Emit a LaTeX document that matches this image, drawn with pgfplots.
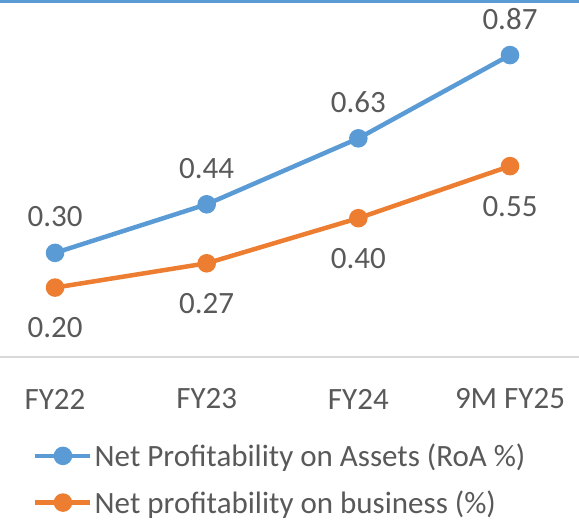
\documentclass[border=0pt]{standalone}
\usepackage{fontspec}
\setmainfont{Carlito}
\usepackage{pgfplots}
\pgfplotsset{compat=1.18}
\definecolor{cblue}{HTML}{5B9BD5}
\definecolor{corange}{HTML}{ED7D31}
\definecolor{ctext}{HTML}{595959}
\definecolor{caxis}{HTML}{D9D9D9}
\begin{document}
\begin{tikzpicture}[font=\fontsize{31}{37}\selectfont]
\path[use as bounding box] (0,0) rectangle (579pt,523pt);
\fill[cblue] (0,520pt) rectangle (579pt,523pt);
\begin{axis}[
  at={(0pt,166pt)}, anchor=south west,
  width=579pt, height=354pt, scale only axis,
  xmin=-0.363, xmax=3.455, ymin=0, ymax=1.02,
  axis x line=bottom, axis y line=none,
  x axis line style={caxis, line width=1.5pt, -},
  xtick={0,1,2,3}, xticklabels={FY22,FY23,FY24,9M FY25},
  major tick length=0pt,
  xticklabel style={text=ctext, anchor=center, yshift=-42pt},
  clip=false,
  point meta=explicit symbolic,
  nodes near coords,
  legend style={at={(0.057,-0.239)}, anchor=north west, draw=none, fill=none,
    text=ctext, inner sep=0pt, row sep=18.5pt, cells={anchor=west},
    /tikz/every even column/.append style={column sep=2pt}},
  legend image code/.code={
    \draw[#1,mark=none] (0pt,0pt) -- (55pt,0pt);
    \draw[#1,only marks] plot coordinates {(27.5pt,0pt)};
  },
]
\addplot[cblue, line width=4.5pt, mark=*, mark size=7pt, mark options={solid},
  every node near coord/.append style={anchor=center, yshift=36pt, text=ctext}]
  coordinates {(0,0.30) [0.30] (1,0.44) [0.44] (2,0.63) [0.63] (3,0.87) [0.87]};
\addlegendentry{Net Profitability on Assets (RoA \%)}
\addplot[corange, line width=4.5pt, mark=*, mark size=7pt, mark options={solid},
  every node near coord/.append style={anchor=center, yshift=-40pt, text=ctext}]
  coordinates {(0,0.20) [0.20] (1,0.27) [0.27] (2,0.40) [0.40] (3,0.55) [0.55]};
\addlegendentry{Net profitability on business (\%)}
\end{axis}
\end{tikzpicture}
\end{document}
